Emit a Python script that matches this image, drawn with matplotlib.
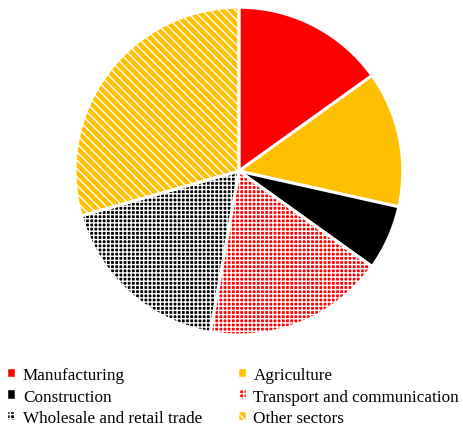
import matplotlib
matplotlib.use("Agg")
from matplotlib import pyplot as plt
from matplotlib.patches import Patch

plt.rcParams['font.family'] = ['Liberation Serif', 'DejaVu Serif']
plt.rcParams['hatch.linewidth'] = 1.0

sectors = ["Manufacturing", "Agriculture", "Construction",
           "Transport and communication", "Wholesale and retail trade", "Other sectors"]
shares = [15.1, 13.4, 6.4, 17.9, 17.8, 29.4]

red = "#FF0000"
orange = "#FFC000"
colors = [red, orange, "#000000", red, "#000000", orange]
hatches = [None, None, None, "++++", "++++", "\\\\\\\\"]

fig = plt.figure(figsize=(4.63, 4.27), dpi=100)
ax = fig.add_axes([0.162, 0.213, 0.708, 0.768])
wedges, _ = ax.pie(shares, colors=colors, startangle=90, counterclock=False,
                   wedgeprops=dict(edgecolor="white", linewidth=2.2))
for w, h in zip(wedges, hatches):
    if h:
        w.set_hatch(h)
ax.set_xlim(-1, 1)
ax.set_ylim(-1, 1)
ax.set_aspect("equal")

handles = [Patch(facecolor=c, edgecolor="white", hatch=h, linewidth=0.3)
           for c, h in zip(colors, hatches)]
# legend is filled row by row in the reference
order = [0, 2, 4, 1, 3, 5]
fig.legend([handles[i] for i in order], [sectors[i] for i in order], ncol=2,
           loc="upper left", bbox_to_anchor=(0.018, 0.138),
           frameon=False, fontsize=12.3, handlelength=0.4, handleheight=0.4,
           handletextpad=0.45, columnspacing=2.15, labelspacing=0.32, borderaxespad=0,
           borderpad=0)

fig.savefig("out.png", dpi=100)
